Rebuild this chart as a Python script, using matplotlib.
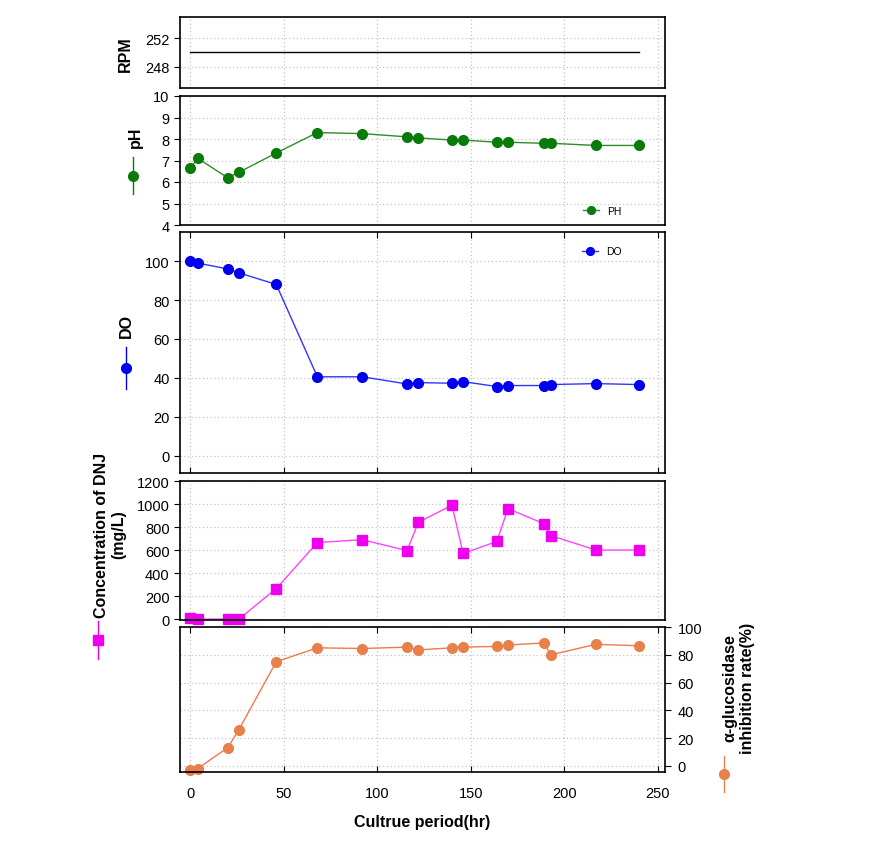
import matplotlib
matplotlib.use('Agg')
import matplotlib.pyplot as plt
from matplotlib.lines import Line2D

plt.rcParams['font.family'] = ['Liberation Sans', 'DejaVu Sans']

# culture time (hr)
hours = [0, 4, 20, 26, 46, 68, 92, 116, 122, 140, 146, 164, 170, 189, 193, 217, 240]
rpm = [250] * len(hours)
ph = [6.65, 7.1, 6.2, 6.45, 7.35, 8.3, 8.25, 8.1, 8.05, 7.95, 7.95, 7.85, 7.85, 7.8, 7.8, 7.7, 7.7]
do = [100, 99, 96, 94, 88, 40.5, 40.5, 36.8, 37.5, 37.2, 38, 35.5, 36, 36, 36.5, 37, 36.5]
dnj = [8, 0, 0, 0, 265, 665, 690, 595, 840, 990, 570, 675, 960, 830, 725, 600, 600]
inhib = [-3, -2, 13, 26, 75, 85, 84.5, 85.5, 83.5, 85, 85.5, 86, 87, 88.5, 80, 87.5, 86.5]

W, H = 896, 854
fig = plt.figure(figsize=(W / 100, H / 100), dpi=100)

def box(top, bottom, left=180, right=665):
    return [left / W, 1 - bottom / H, (right - left) / W, (bottom - top) / H]

def style(ax):
    ax.set_xlim(-5.5, 254)
    ax.set_xticks([0, 50, 100, 150, 200, 250])
    ax.grid(True, color='#c4c4c4', linestyle=(0, (1, 2)), linewidth=0.9)
    ax.tick_params(labelsize=10.5, length=4)
    for s in ax.spines.values():
        s.set_linewidth(1.2)

ax1 = fig.add_axes(box(18, 89))
ax1.plot(hours, rpm, color='black', linewidth=1)
ax1.set_ylim(245, 255)
ax1.set_yticks([248, 252])
style(ax1)
ax1.tick_params(axis='x', bottom=False, labelbottom=False)

ax2 = fig.add_axes(box(97, 226))
ax2.plot(hours, ph, color='#2e8b2e', linewidth=1, marker='o', ms=7,
         mfc='#0a7a0a', mec='#0a7a0a', label='PH')
ax2.set_ylim(4, 10)
ax2.set_yticks(range(4, 11))
style(ax2)
ax2.tick_params(axis='x', bottom=False, labelbottom=False)
ax2.legend(loc='lower right', frameon=False, fontsize=7.5, handlelength=1.5,
           markerscale=0.8, bbox_to_anchor=(0.93, 0.0))

ax3 = fig.add_axes(box(233, 474))
ax3.plot(hours, do, color='#3333ff', linewidth=1, marker='o', ms=7,
         mfc='#0000ee', mec='#0000ee', label='DO')
ax3.set_ylim(-9, 115)
ax3.set_yticks(range(0, 101, 20))
style(ax3)
ax3.tick_params(axis='x', direction='in', top=True, labelbottom=False)
ax3.legend(loc='upper right', frameon=False, fontsize=7.5, handlelength=1.5,
           markerscale=0.8, bbox_to_anchor=(0.93, 0.98))

ax4 = fig.add_axes(box(482, 621))
ax4.plot(hours, dnj, color='#ff44ff', linewidth=1, marker='s', ms=7,
         mfc='#ee00ee', mec='#ee00ee', clip_on=False)
ax4.set_ylim(-8, 1200)
ax4.set_yticks(range(0, 1201, 200))
style(ax4)
ax4.tick_params(axis='x', bottom=False, labelbottom=False)

ax5 = fig.add_axes(box(628, 773))
ax5.plot(hours, inhib, color='#f07a4a', linewidth=1, marker='o', ms=7,
         mfc='#e8804a', mec='#e8804a', clip_on=False)
ax5.set_ylim(-4.5, 100)
ax5.set_yticks(range(0, 101, 20))
ax5.yaxis.tick_right()
style(ax5)
ax5.tick_params(axis='y', pad=5)
ax5.tick_params(axis='x', top=True, direction='in', length=4, pad=10)
ax5.set_xlabel('Cultrue period(hr)', fontsize=11.5, fontweight='bold', labelpad=10)

# axis titles with SigmaPlot-style symbol keys
lab = dict(fontsize=11.5, fontweight='bold', rotation=90, ha='center', va='center')
fig.text(125 / W, 1 - 54 / H, 'RPM', **lab)
fig.text(135 / W, 1 - 137 / H, 'pH', **lab)
fig.text(126 / W, 1 - 326 / H, 'DO', **lab)
fig.text(110 / W, 1 - 535 / H, 'Concentration of DNJ\n(mg/L)', **lab)
fig.text(739 / W, 1 - 688 / H, u'\u03b1-glucosidase\ninhibition rate(%)', **lab)

def key(x, y0, y1, color, marker):
    xs = [x / W, x / W]
    fig.add_artist(Line2D(xs, [1 - y0 / H, 1 - y1 / H], color=color, linewidth=1,
                          transform=fig.transFigure))
    ym = 1 - (y0 + y1) / 2 / H
    fig.add_artist(Line2D([x / W], [ym], marker=marker, ms=7, color=color,
                          linestyle='none', transform=fig.transFigure))

key(133, 158, 195, '#0a7a0a', 'o')
key(126, 348, 390, '#0000ee', 'o')
key(98, 622, 660, '#ee00ee', 's')
key(724, 757, 793, '#e8804a', 'o')

fig.savefig('out.png', dpi=100)
